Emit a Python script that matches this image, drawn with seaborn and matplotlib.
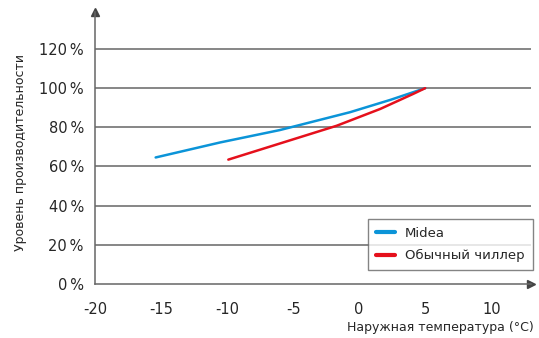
import matplotlib
matplotlib.use("Agg")
import matplotlib.pyplot as plt
import seaborn as sns
import pandas as pd
from matplotlib.lines import Line2D

midea_x = [-15.4, -10.5, -6.0, -0.7, 2.4, 5.0]
midea_y = [64.6, 72.3, 78.6, 87.7, 94.1, 100.0]
chiller_x = [-9.9, -5.4, -1.7, 1.6, 4.1, 5.0]
chiller_y = [63.5, 73.0, 80.8, 89.4, 97.1, 100.0]
series_names = ["Midea", "Обычный чиллер"]
xticks = [-20, -15, -10, -5, 0, 5, 10]
yticks = [0, 20, 40, 60, 80, 100, 120]
colors = ["#0b94d8", "#e5101c"]

df = pd.DataFrame({
    "x": midea_x + chiller_x,
    "y": midea_y + chiller_y,
    "s": [series_names[0]] * len(midea_x) + [series_names[1]] * len(chiller_x),
})

sns.set_style("white")
plt.rcParams["font.family"] = ["DejaVu Sans"]

fig = plt.figure(figsize=(5.39, 3.38), dpi=100)
ax = fig.add_axes([0.176, 0.160, 0.809, 0.805])

for i, name in enumerate(series_names):
    sub = df[df.s == name]
    sns.lineplot(data=sub, x="x", y="y", ax=ax, color=colors[i], lw=1.8,
                 sort=True, estimator=None, legend=False)

ax.set_xlim(-20, 13)
ax.set_ylim(0, 139)
for t in yticks[1:]:
    ax.axhline(t, color="#666666", lw=1.1, zorder=0)

ax.set_xticks(xticks)
ax.set_xticklabels([str(v) for v in xticks], fontsize=10.5, color="#262626")
ax.set_yticks(yticks)
ax.set_yticklabels([f"{v}\u2009%" for v in yticks], fontsize=10.5, color="#262626")
ax.tick_params(axis="x", length=5, width=1, color="#666666", pad=8, direction="out")
ax.tick_params(axis="y", length=0, pad=8)

for sp in ["top", "right"]:
    ax.spines[sp].set_visible(False)
for sp in ["left", "bottom"]:
    ax.spines[sp].set_color("#666666")
    ax.spines[sp].set_linewidth(1.1)

ax.plot([0], [1], marker="^", color="#444444", markersize=6, transform=ax.transAxes, clip_on=False)
ax.plot([1], [0], marker=">", color="#444444", markersize=6, transform=ax.transAxes, clip_on=False)

ax.set_xlabel("")
ax.set_ylabel("")
fig.text(0.038, 0.55, "Уровень производительности", rotation=90, ha="center", va="center",
         fontsize=9, color="#262626")
fig.text(0.99, 0.03, "Наружная температура (°C)", ha="right", va="center",
         fontsize=9, color="#262626")

handles = [Line2D([0], [0], color=c, lw=3) for c in colors]
leg = ax.legend(handles, series_names, loc="lower right", bbox_to_anchor=(1.004, 0.05),
                borderaxespad=0, fontsize=9.5, frameon=True, fancybox=False, edgecolor="#666666",
                handlelength=1.4, borderpad=0.6, labelspacing=0.7)
leg.get_frame().set_linewidth(1.0)
for t in leg.get_texts():
    t.set_color("#262626")

fig.savefig("out.png", dpi=100)
